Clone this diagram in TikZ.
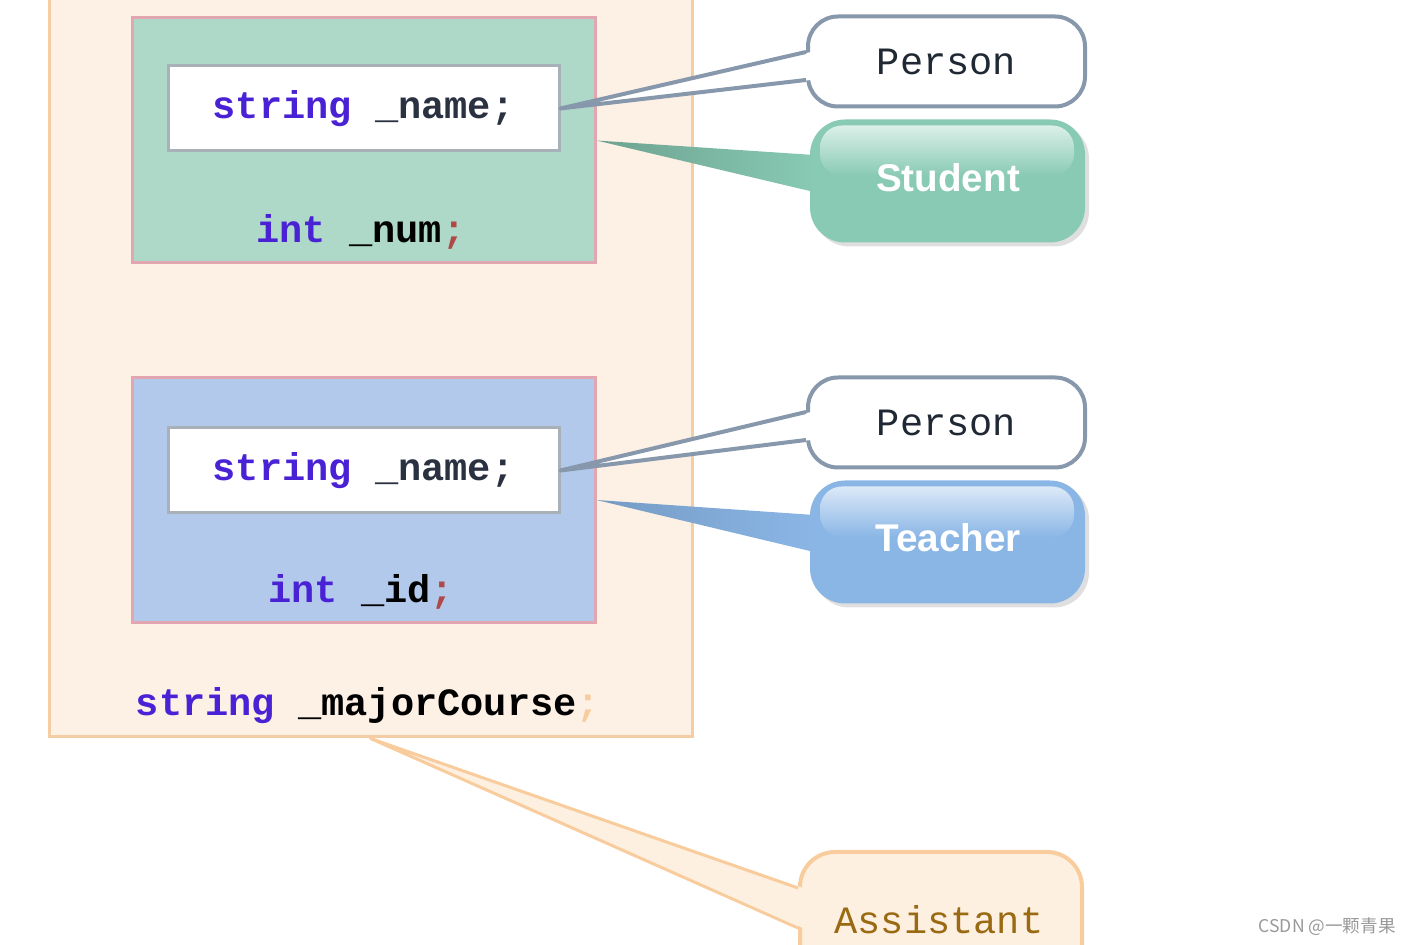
\documentclass[tikz,border=0pt]{standalone}
\usepackage{fontspec}
\setmonofont{Liberation Mono}
\setsansfont{Liberation Sans}
\newfontfamily\cjkfont{Noto Sans CJK SC}
\usetikzlibrary{shadows}
\definecolor{peach}{HTML}{FDF0E5}
\definecolor{peachline}{HTML}{F5CDA5}
\definecolor{stugreen}{HTML}{AED8C8}
\definecolor{teablue}{HTML}{B2C9EC}
\definecolor{pinkline}{HTML}{E2A6B0}
\definecolor{fieldline}{HTML}{A8B0B8}
\definecolor{kwblue}{HTML}{4A22D6}
\definecolor{identgray}{HTML}{2A3242}
\definecolor{semired}{HTML}{B04848}
\definecolor{tagline}{HTML}{8898AC}
\definecolor{tagtext}{HTML}{202834}
\definecolor{badgegreen}{HTML}{88CAB4}
\definecolor{badgeblue}{HTML}{8AB6E6}
\definecolor{asfill}{HTML}{FEF0E1}
\definecolor{asline}{HTML}{F8CC9C}
\definecolor{astext}{HTML}{9A6A12}
\newcommand{\kw}[1]{\textcolor{kwblue}{#1}}
\tikzstyle{outer}=[rectangle, fill=peach, draw=peachline, line width=.3mm, inner sep=0pt]
\tikzstyle{member} = [outer, minimum width=4.63cm, minimum height=2.45cm, draw=pinkline]
\tikzstyle{code} = [font=\fontsize{11}{13}\selectfont\ttfamily\bfseries, text=identgray, inner sep=0pt]
\tikzstyle{field} = [code, rectangle, fill=white, draw=fieldline, line width=.3mm, minimum width=3.91cm, minimum height=.85cm]
\tikzstyle{tag} = [rectangle, rounded corners=.3cm, minimum width=2.77cm, minimum height=.9cm, fill=white, draw=tagline, line width=.4mm, font=\fontsize{11}{13}\selectfont\ttfamily, text=tagtext]
\tikzstyle{badge} = [tag, rounded corners=.35cm, minimum width=2.75cm, minimum height=1.23cm, draw=none, font=\fontsize{11}{13}\selectfont\sffamily\bfseries, text=white, drop shadow={opacity=.25, shadow xshift=.04cm, shadow yshift=-.04cm}]
\tikzstyle{pointer} = [draw=tagline, line width=.4mm, line join=round]

\begin{document}
\begin{tikzpicture}

	\useasboundingbox (0,0) rectangle (14.11,-9.45);
	\clip (0,0) rectangle (14.11,-9.45);

	\node[outer, minimum width=6.43cm, minimum height=7.57cm] (a_0) at (3.705,-3.585) {};

	% student part
	\node[member, fill=stugreen] (s_0) at (3.635,-1.405) {};
	\node[field] (s_1) at (3.635,-1.085) {\kw{string} \_name;};
	\node[code] (s_2) at (3.61,-2.32) {\kw{int} \textcolor{black}{\_num}\textcolor{semired}{;}};

	% teacher part
	\node[member, fill=teablue] (t_0) at (3.635,-5.0) {};
	\node[field] (t_1) at (3.635,-4.705) {\kw{string} \_name;};
	\node[code] (t_2) at (3.61,-5.92) {\kw{int} \textcolor{black}{\_id}\textcolor{semired}{;}};

	\node[code] (a_1) at (3.68,-7.06) {\kw{string} \textcolor{black}{\_majorCourse}\textcolor{asline}{;}};

	% callouts
	\node[tag] (p_1) at (9.465,-0.615) {Person};
	\node[badge, fill=badgegreen] (v_1) at (9.475,-1.81) {};
	\node[tag] (p_2) at (9.465,-4.225) {Person};
	\node[badge, fill=badgeblue] (v_2) at (9.475,-5.42) {};
	\node[tag, rounded corners=.35cm, minimum width=2.82cm, minimum height=1.38cm, fill=asfill, draw=asline, text=astext] (v_3) at (9.41,-9.21) {};

	% badge pointers, under the gloss
	\shade[left color=badgegreen!80!black, right color=badgegreen] ([xshift=.06cm, yshift=.26cm]v_1.west) -- (s_0.east) -- ([xshift=.06cm, yshift=-.11cm]v_1.west) -- cycle;
	\shade[left color=badgeblue!85!black, right color=badgeblue] ([xshift=.06cm, yshift=.27cm]v_2.west) -- (t_0.east) -- ([xshift=.06cm, yshift=-.10cm]v_2.west) -- cycle;

	\foreach \badge/\base in {v_1/badgegreen, v_2/badgeblue}{
		\shade[top color=white!70!\base, bottom color=\base, rounded corners=.22cm]
			([xshift=.12cm, yshift=-.08cm]\badge.north west) rectangle ([xshift=-.13cm, yshift=.05cm]\badge.east);
	}
	\node[font=\fontsize{11}{13}\selectfont\sffamily\bfseries, text=white] (v_1t) at (9.48,-1.78) {Student};
	\node[font=\fontsize{11}{13}\selectfont\sffamily\bfseries, text=white] (v_2t) at (9.48,-5.38) {Teacher};
	\node[font=\fontsize{11}{13}\selectfont\ttfamily, text=astext] (v_3t) at (9.39,-9.2) {Assistant};

	% pointers
	\coordinate (p_1a) at ([xshift=.05cm, yshift=.095cm]p_1.west);
	\coordinate (p_1b) at ([xshift=.05cm, yshift=-.185cm]p_1.west);
	\fill[white] (p_1a) -- (s_1.east) -- (p_1b) -- cycle;
	\draw[pointer] ([xshift=-.05cm]p_1a) -- (s_1.east) -- ([xshift=-.05cm]p_1b);

	\coordinate (p_2a) at ([xshift=.05cm, yshift=.105cm]p_2.west);
	\coordinate (p_2b) at ([xshift=.05cm, yshift=-.175cm]p_2.west);
	\fill[white] (p_2a) -- (t_1.east) -- (p_2b) -- cycle;
	\draw[pointer] ([xshift=-.05cm]p_2a) -- (t_1.east) -- ([xshift=-.05cm]p_2b);

	\coordinate (v_3a) at ([xshift=.05cm, yshift=.33cm]v_3.west);
	\coordinate (v_3b) at ([xshift=.05cm, yshift=-.07cm]v_3.west);
	\fill[asfill] (v_3a) -- (a_0.south) -- (v_3b) -- cycle;
	\draw[pointer, draw=asline, line width=.3mm] ([xshift=-.05cm]v_3a) -- (a_0.south) -- ([xshift=-.05cm]v_3b);

	\node[font=\cjkfont\fontsize{5}{6}\selectfont, text=black!40, anchor=east] (w_1) at (14.08,-9.27) {CSDN @一颗青果};

\end{tikzpicture}
\end{document}
